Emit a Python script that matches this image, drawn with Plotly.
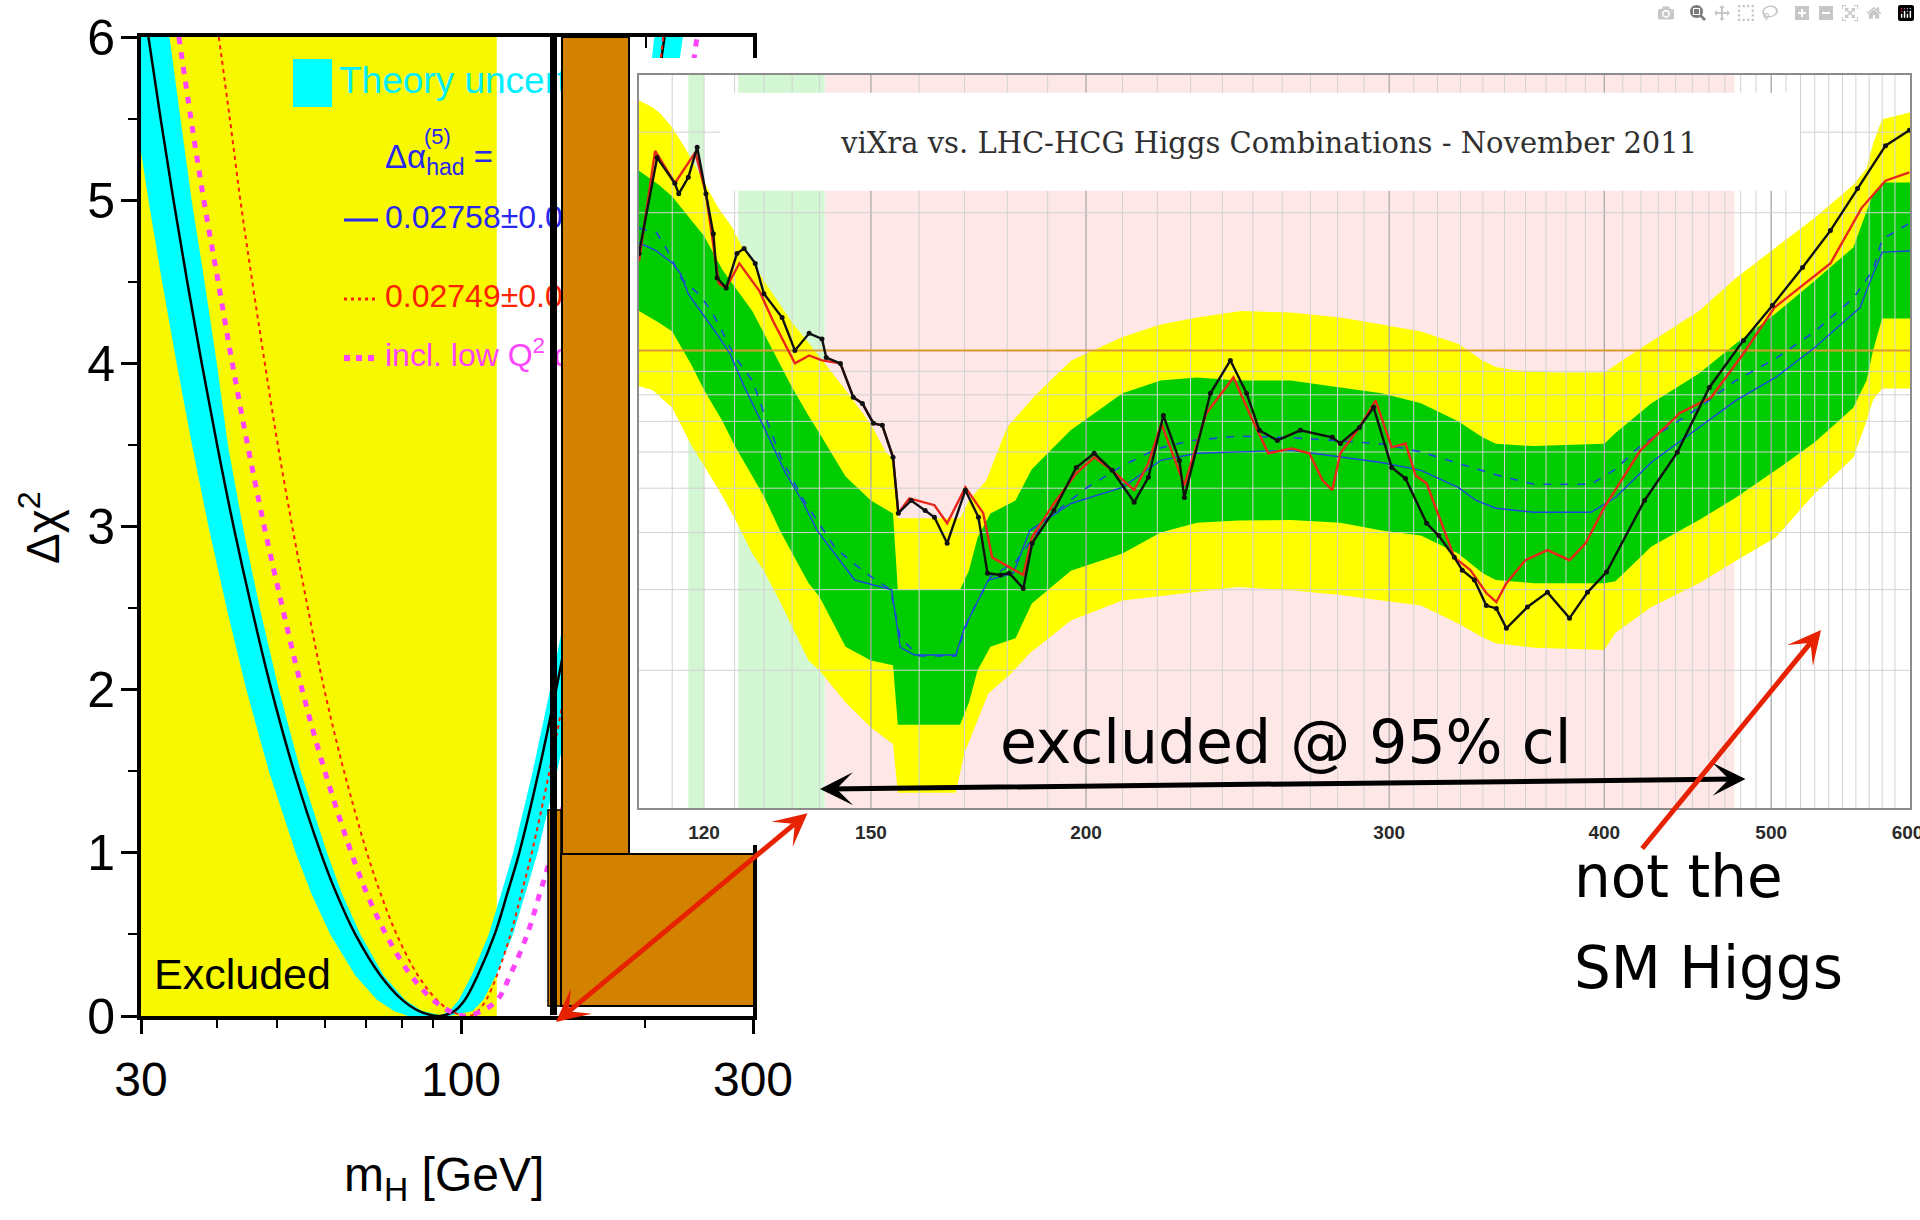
import math
import plotly.graph_objects as go

W, H = 1920, 1220

# =============== LEFT PANEL : Delta chi^2 vs m_H ===============
LEFT_X_TICKS = [30, 100, 300]
LEFT_X_MINOR = [40, 50, 60, 70, 80, 90, 200]
LEFT_Y_TICKS = [0, 1, 2, 3, 4, 5, 6]
LEFT_Y_MINOR = [0.5, 1.5, 2.5, 3.5, 4.5, 5.5]
LEP_EXCLUDED = [30, 114.4]

FIT_M = [30.85, 32.3, 33.9, 35.7, 37.7, 39.95, 42.5, 45.5, 49.0, 53.35, 59.0, 62.6, 67.2, 73.8, 80.1, 85.4,
         92.3, 97.5, 101.5, 106.5, 113.5, 119.0, 124.5, 134.0, 143.0, 152.0, 161.0, 170.0, 179.0, 188.0,
         197.0, 206.0, 215.0]
FIT_D = [6, 5.5, 5, 4.5, 4, 3.5, 3, 2.5, 2, 1.5, 1, 0.75, 0.5, 0.25, 0.1, 0.03,
         0, 0.03, 0.1, 0.25, 0.5, 0.75, 1, 1.5, 2, 2.5, 3, 3.5, 4, 4.5, 5, 5.5, 6]

ALT_M = [40.2, 41.9, 43.6, 45.6, 47.8, 50.2, 53.0, 56.2, 59.8, 64.4, 70.2, 73.9, 78.5, 85.0, 91.2, 96.4,
         103.0, 106.5, 110.0, 114.5, 120.5, 125.5, 130.5, 139.5, 148.0, 156.5, 165.0, 173.5, 182.0, 190.5,
         198.5, 206.5, 214.0]
ALT_D = FIT_D

LOWQ_M = [34.6, 36.2, 38.0, 40.1, 42.3, 44.8, 47.7, 51.1, 55.0, 59.9, 66.2, 70.2, 75.4, 82.8, 89.9, 95.8,
          101.0, 108.0, 114.7, 120.3, 128.3, 134.5, 140.7, 151.4, 161.6, 171.8, 181.9, 192.1, 202.3, 212.4,
          222.6, 232.8, 243.0]
LOWQ_D = FIT_D

# theory band: outer edge then inner edge (closed polygon)
BAND_M = [28.07, 29.39, 30.85, 32.48, 34.30, 36.35, 38.67, 41.40, 44.59, 48.54, 53.69, 56.96, 61.15, 67.15,
          72.89, 77.7, 82.0, 95.5, 104.5, 108.8, 114.1, 121.6, 127.5, 133.4, 143.6, 153.2, 162.9, 172.5,
          182.2, 191.8, 201.4, 211.1, 220.7, 230.4,
          207.0, 199.5, 191.5, 183.2, 174.6, 166.0, 157.4, 148.6, 139.8, 131.0, 121.7, 116.3, 111.0, 104.1,
          99.2, 95.8, 92.5, 86.4, 81.0, 74.7, 68.5, 63.9, 60.4, 54.7, 50.4, 46.9, 44.0, 41.6, 39.9, 38.1,
          36.3, 34.8, 33.4]
BAND_D = [6, 5.5, 5, 4.5, 4, 3.5, 3, 2.5, 2, 1.5, 1, 0.75, 0.5, 0.25, 0.1, 0.03, 0, 0, 0.03, 0.1, 0.25,
          0.5, 0.75, 1, 1.5, 2, 2.5, 3, 3.5, 4, 4.5, 5, 5.5, 6,
          6, 5.5, 5, 4.5, 4, 3.5, 3, 2.5, 2, 1.5, 1, 0.75, 0.5, 0.25, 0.1, 0.03, 0.005, 0.03, 0.1, 0.25,
          0.5, 0.75, 1, 1.5, 2, 2.5, 3, 3.5, 4, 4.5, 5, 5.5, 6]

# =============== RIGHT PANEL : viXra vs LHC-HCG ===============
R_X_TICKS = [120, 150, 200, 300, 400, 500, 600]
GRID_MAJOR = [150, 200, 300, 400, 500]
GRID_MINOR = [115, 120, 125, 130, 135, 140, 160, 170, 180, 190, 210, 220, 230, 240, 250, 260, 270, 280, 290,
              310, 320, 330, 340, 350, 360, 370, 380, 390, 410, 420, 430, 440, 450, 460, 470, 480, 490,
              510, 520, 530, 540, 550, 560, 570, 580, 590]
GRID_H = [0.2, 0.3, 0.4, 0.5, 0.6, 0.7, 0.8, 0.9, 1, 2, 3]
PINK_RANGE = [141, 476]
GREEN_RANGES = [[117.5, 120], [125.6, 141]]
TITLE_BOX = [122.6, 519.6, 2.235, 3.66]

YT_M = [110, 112, 113.2, 115, 117, 119, 120.6, 122.3, 124.6, 126.3, 128, 130, 133, 135, 138, 140, 145, 150,
        153, 154.5, 155.5, 169, 171, 175, 180, 187, 196, 210, 221, 232, 246, 263, 281, 297, 313, 329, 340,
        346, 355, 373, 400, 418, 454, 477, 503, 530, 558, 568, 573, 580, 602]
YT_V = [3.52, 3.4, 3.29, 3.07, 2.77, 2.47, 2.27, 2.05, 1.86, 1.68, 1.56, 1.42, 1.25, 1.15, 1.04, 0.97, 0.82,
        0.69, 0.6, 0.58, 0.43, 0.43, 0.47, 0.52, 0.68, 0.8, 0.95, 1.07, 1.14, 1.18, 1.22, 1.21, 1.18, 1.14,
        1.1, 1.035, 0.95, 0.92, 0.905, 0.895, 0.895, 1.0, 1.22, 1.44, 1.68, 1.95, 2.3, 2.5, 2.83, 3.2, 3.31]
YB_M = [110, 112, 115, 118, 120, 123, 125, 128, 130, 133, 135, 138, 140, 145, 150, 154.5, 155.5, 168, 170,
        175.5, 181, 185.5, 196, 210, 245, 263, 281, 297, 313, 329, 340, 346, 364, 400, 406, 426, 454, 477,
        503, 530, 558, 568, 573, 580, 602]
YB_V = [0.835, 0.82, 0.75, 0.62, 0.56, 0.48, 0.43, 0.36, 0.33, 0.28, 0.25, 0.21, 0.2, 0.17, 0.15, 0.138,
        0.108, 0.108, 0.132, 0.178, 0.197, 0.218, 0.257, 0.284, 0.304, 0.299, 0.292, 0.284, 0.277, 0.253,
        0.236, 0.229, 0.224, 0.2215, 0.2415, 0.275, 0.31, 0.347, 0.39, 0.487, 0.583, 0.70, 0.78, 0.826,
        0.826]
GT_M = [110, 113, 115, 118, 120, 123, 125, 128, 130, 133, 135, 138, 140, 145, 150, 154.5, 155.5, 169, 171,
        173, 176, 182, 186, 196, 210, 221, 232, 245, 263, 281, 297, 313, 329, 340, 346, 364, 400, 406, 426,
        454, 477, 503, 530, 558, 573, 580, 602]
GT_V = [2.47, 2.3, 2.17, 1.93, 1.78, 1.5, 1.38, 1.22, 1.09, 0.92, 0.83, 0.72, 0.66, 0.53, 0.47, 0.44, 0.30,
        0.30, 0.33, 0.39, 0.44, 0.47, 0.55, 0.67, 0.806, 0.86, 0.873, 0.86, 0.86, 0.83, 0.806, 0.767, 0.70,
        0.645, 0.625, 0.618, 0.625, 0.66, 0.767, 0.89, 1.036, 1.205, 1.42, 1.68, 2.2, 2.33, 2.33]
GB_M = [110, 113, 115, 118, 120, 123, 125, 128, 130, 133, 135, 138, 140, 145, 150, 154.5, 155.5, 169, 171,
        173, 176, 182, 186, 196, 210, 221, 232, 245, 263, 281, 297, 313, 329, 340, 346, 364, 400, 406, 426,
        454, 477, 503, 530, 558, 568, 573, 580, 602]
GB_V = [1.22, 1.15, 1.1, 0.93, 0.82, 0.7, 0.62, 0.53, 0.48, 0.40, 0.36, 0.31, 0.29, 0.225, 0.21, 0.205,
        0.152, 0.152, 0.17, 0.2, 0.225, 0.235, 0.28, 0.33, 0.36, 0.4, 0.42, 0.425, 0.426, 0.42, 0.404, 0.394,
        0.36, 0.326, 0.315, 0.31, 0.31, 0.313, 0.373, 0.426, 0.477, 0.547, 0.63, 0.75, 0.86, 1.0, 1.175,
        1.175]
MED_M = [110, 112.6, 115.1, 116.3, 117.5, 119.1, 120.8, 122.5, 124.3, 126.5, 130, 133.8, 136.8, 139.6, 146.8,
         154.2, 156, 159, 168, 170, 175.5, 181.5, 185.5, 196, 210, 221, 232, 245, 263, 297, 313, 329, 337, 346,
         364, 393, 406, 426, 454, 477, 503, 530, 558, 563, 573, 580, 602]
MED_V = [1.72, 1.65, 1.55, 1.47, 1.33, 1.24, 1.146, 1.067, 0.98, 0.84, 0.68, 0.54, 0.47, 0.404, 0.315, 0.3,
         0.2245, 0.216, 0.216, 0.248, 0.315, 0.326, 0.404, 0.463, 0.502, 0.575, 0.596, 0.6, 0.605, 0.569,
         0.547, 0.502, 0.47, 0.452, 0.443, 0.443, 0.477, 0.57, 0.68, 0.778, 0.873, 1.015, 1.205, 1.24, 1.47,
         1.64, 1.65]
EXP_M = [110, 112.6, 114, 116.5, 119.1, 121, 122.5, 123.9, 125, 128, 130, 133, 136.8, 143, 149, 154, 156, 160,
         168, 171, 176, 182, 190, 200, 210, 220, 230, 245, 263, 280, 297, 313, 330, 346, 364, 393, 406, 420,
         454, 477, 503, 530, 558, 573, 580, 602]
EXP_V = [1.85, 1.81, 1.68, 1.43, 1.33, 1.23, 1.13, 1.036, 0.97, 0.86, 0.73, 0.583, 0.477, 0.37, 0.326, 0.30,
         0.235, 0.215, 0.215, 0.26, 0.32, 0.345, 0.43, 0.50, 0.56, 0.61, 0.635, 0.65, 0.645, 0.635, 0.625,
         0.60, 0.565, 0.535, 0.51, 0.51, 0.55, 0.62, 0.75, 0.86, 0.96, 1.1, 1.3, 1.5, 1.75, 1.9]
OBS_M = [110.0, 112.7, 115.4, 116.0, 117.5, 118.9, 120.3, 121.5, 122.1, 123.6, 125.4, 126.6, 128.5, 130.0,
         133.2, 135.5, 138.1, 140.5, 141.3, 144.0, 146.5, 148.3, 150.5, 152.3, 154.5, 155.6, 158.3, 161.3,
         163.3, 166.1, 170.2, 173.2, 175.3, 178.4, 180.5, 183.9, 186.1, 191.6, 197.4, 202.2, 207.1, 213.3,
         217.4, 221.8, 226.6, 228.1, 236.2, 242.6, 247.9, 252.2, 258.3, 266.4, 278.0, 281.0, 288.3, 293.8,
         301.0, 306.6, 315.4, 320.5, 327.3, 330.8, 336.2, 341.6, 346.2, 350.9, 360.9, 370.7, 381.8, 391.1,
         401.2, 422.1, 441.0, 460.3, 481.8, 500.8, 521.4, 541.2, 561.2, 582.6, 601.5]
OBS_V = [1.63, 2.64, 2.32, 2.20, 2.39, 2.78, 2.20, 1.80, 1.44, 1.37, 1.63, 1.67, 1.55, 1.33, 1.18, 1.00,
         1.09, 1.06, 0.965, 0.937, 0.79, 0.766, 0.693, 0.686, 0.584, 0.441, 0.47, 0.447, 0.432, 0.379, 0.495,
         0.432, 0.326, 0.323, 0.326, 0.302, 0.379, 0.447, 0.555, 0.596, 0.547, 0.466, 0.528, 0.721, 0.575,
         0.477, 0.806, 0.951, 0.806, 0.669, 0.636, 0.669, 0.646, 0.626, 0.679, 0.751, 0.555, 0.525, 0.419,
         0.394, 0.353, 0.331, 0.315, 0.277, 0.273, 0.247, 0.275, 0.296, 0.26, 0.296, 0.328, 0.47, 0.599, 0.83,
         1.052, 1.254, 1.518, 1.828, 2.258, 2.803, 3.03]
VIX_M = [110.0, 112.4, 115.4, 118.6, 120.3, 122.4, 123.6, 125.8, 129.2, 131.6, 135.5, 138.1, 140.5, 144.0,
         146.5, 148.3, 150.5, 152.3, 154.5, 155.6, 157.9, 163.3, 166.1, 170.2, 174.3, 176.4, 183.9, 186.1,
         191.6, 197.4, 202.2, 207.1, 213.3, 217.4, 221.2, 228.1, 234.9, 243.6, 249.5, 255.2, 263.2, 269.6,
         274.4, 278.0, 281.0, 288.3, 294.6, 301.0, 306.6, 310.8, 315.4, 327.3, 334.4, 341.6, 346.2, 350.9,
         359.9, 370.7, 381.8, 390.1, 400.0, 419.8, 438.1, 442.3, 461.5, 481.8, 502.2, 541.2, 564.3, 582.6,
         601.5]
VIX_V = [1.57, 2.73, 2.32, 2.71, 2.20, 1.40, 1.37, 1.55, 1.35, 1.16, 0.937, 0.975, 0.951, 0.937, 0.79, 0.766,
         0.693, 0.686, 0.584, 0.441, 0.475, 0.459, 0.419, 0.502, 0.441, 0.353, 0.323, 0.391, 0.463, 0.539,
         0.584, 0.547, 0.495, 0.567, 0.693, 0.507, 0.729, 0.873, 0.714, 0.596, 0.611, 0.596, 0.52, 0.495,
         0.596, 0.679, 0.778, 0.614, 0.626, 0.533, 0.512, 0.353, 0.331, 0.295, 0.282, 0.31, 0.348, 0.366,
         0.348, 0.379, 0.454, 0.605, 0.703, 0.729, 0.79, 0.985, 1.241, 1.549, 2.05, 2.35, 2.45]
LIMIT_LINE = 1.0

# ---------------- helpers (pixel geometry of the composite) ----------------
SANS = "Liberation Sans, Arial, Helvetica, sans-serif"
HAND = "DejaVu Sans, sans-serif"


def X(p):
    return p / W


def Y(p):
    return 1 - p / H


L_X0, L_X1, L_Y0, L_Y1 = 141, 753, 37, 1016


def lx(p):
    return 10 ** (math.log10(30) + (p - L_X0) / (L_X1 - L_X0) * (math.log10(300) - math.log10(30)))


def ly(p):
    return 6.0 * (L_Y1 - p) / (L_Y1 - L_Y0)


fig = go.Figure()
common = dict(hoverinfo="skip", showlegend=False)

# ---- left panel traces ----
fig.add_trace(go.Scatter(x=[LEP_EXCLUDED[0], LEP_EXCLUDED[1], LEP_EXCLUDED[1], LEP_EXCLUDED[0]],
                         y=[0, 0, 6, 6], fill="toself", fillcolor="#f8f800", mode="lines",
                         line=dict(width=0), **common))
fig.add_trace(go.Scatter(x=BAND_M, y=BAND_D, fill="toself", fillcolor="#00ffff", mode="lines",
                         line=dict(width=0), **common))
fig.add_trace(go.Scatter(x=FIT_M, y=FIT_D, mode="lines", line=dict(color="black", width=2.5, shape="spline"),
                         **common))
fig.add_trace(go.Scatter(x=ALT_M, y=ALT_D, mode="lines",
                         line=dict(color="#ff2200", width=2, dash="4px,4px", shape="spline"), **common))
fig.add_trace(go.Scatter(x=LOWQ_M, y=LOWQ_D, mode="lines",
                         line=dict(color="#ff44ff", width=5, dash="7px,8px", shape="spline"), **common))

# legend texts (drawn as traces so the pasted blocks hide them)
legend_items = [
    ("Theory uncertainty", 339, 84, "#00f0ff", 37),
    ("Δα<sub>had</sub> =", 385, 160, "#2828f0", 33),
    ("(5)", 424, 138, "#2828f0", 22),
    ("0.02758±0.00035", 385, 220, "#2828f0", 32),
    ("0.02749±0.00010", 385, 299, "#ff2200", 32),
    ("incl. low Q<sup>2</sup> data", 385, 358, "#ff44ff", 32),
]
for txt, px_, py_, col, sz in legend_items:
    fig.add_trace(go.Scatter(x=[lx(px_)], y=[ly(py_)], mode="text", text=[txt], textposition="middle right",
                             textfont=dict(family=SANS, size=sz, color=col), **common))

# ---- white pasted picture block (overlapping subplot gives an opaque background) ----
fig.add_trace(go.Scatter(x=[None], y=[None], xaxis="x2", yaxis="y2", **common))

# ---- right panel traces ----
rx = dict(xaxis="x3", yaxis="y3")
fig.add_trace(go.Scatter(x=[PINK_RANGE[0], PINK_RANGE[1], PINK_RANGE[1], PINK_RANGE[0]], y=[0.1, 0.1, 4, 4],
                         fill="toself", fillcolor="#fde7e7", mode="lines", line=dict(width=0), **rx, **common))
for g0, g1 in GREEN_RANGES:
    fig.add_trace(go.Scatter(x=[g0, g1, g1, g0], y=[0.1, 0.1, 4, 4], fill="toself", fillcolor="#d3f6d3",
                             mode="lines", line=dict(width=0), **rx, **common))
fig.add_trace(go.Scatter(x=YT_M + YB_M[::-1], y=YT_V + YB_V[::-1], fill="toself", fillcolor="#ffff00",
                         mode="lines", line=dict(width=0), **rx, **common))
fig.add_trace(go.Scatter(x=GT_M + GB_M[::-1], y=GT_V + GB_V[::-1], fill="toself", fillcolor="#00cc00",
                         mode="lines", line=dict(width=0), **rx, **common))


def vlines(vals):
    xs, ys = [], []
    for v in vals:
        xs += [v, v, None]
        ys += [0.1, 4, None]
    return xs, ys


def hlines(vals):
    xs, ys = [], []
    for v in vals:
        xs += [110, 602, None]
        ys += [v, v, None]
    return xs, ys


gx, gy = vlines(GRID_MINOR)
fig.add_trace(go.Scatter(x=gx, y=gy, mode="lines", line=dict(color="#d2d2d2", width=1), **rx, **common))
gx, gy = vlines(GRID_MAJOR)
fig.add_trace(go.Scatter(x=gx, y=gy, mode="lines", line=dict(color="#a9a9a9", width=1.3), **rx, **common))
gx, gy = hlines(GRID_H)
fig.add_trace(go.Scatter(x=gx, y=gy, mode="lines", line=dict(color="#d2d2d2", width=1), **rx, **common))
b = TITLE_BOX
fig.add_trace(go.Scatter(x=[b[0], b[1], b[1], b[0]], y=[b[2], b[2], b[3], b[3]], fill="toself",
                         fillcolor="white", mode="lines", line=dict(width=0), **rx, **common))
fig.add_trace(go.Scatter(x=[110, 602], y=[LIMIT_LINE, LIMIT_LINE], mode="lines",
                         line=dict(color="#dc9a2e", width=2), **rx, **common))
fig.add_trace(go.Scatter(x=EXP_M, y=EXP_V, mode="lines", line=dict(color="#1f45e0", width=1.6, dash="8px,9px"),
                         **rx, **common))
fig.add_trace(go.Scatter(x=MED_M, y=MED_V, mode="lines", line=dict(color="#1f45e0", width=1.4), **rx, **common))
fig.add_trace(go.Scatter(x=VIX_M, y=VIX_V, mode="lines", line=dict(color="#e8281a", width=2.4), **rx, **common))
fig.add_trace(go.Scatter(x=OBS_M, y=OBS_V, mode="lines+markers", line=dict(color="#111111", width=2.4),
                         marker=dict(color="#111111", size=5), **rx, **common))

# ---------------- layout ----------------
ORANGE = "#d38200"
shapes = [
    dict(type="rect", xref="paper", yref="paper", x0=X(293), x1=X(332), y0=Y(107), y1=Y(59),
         fillcolor="#00ffff", line=dict(width=0), layer="above"),
    dict(type="line", xref="paper", yref="paper", x0=X(344), x1=X(378), y0=Y(220), y1=Y(220),
         line=dict(color="#2828f0", width=3), layer="above"),
    dict(type="line", xref="paper", yref="paper", x0=X(344), x1=X(376), y0=Y(299), y1=Y(299),
         line=dict(color="#ff2200", width=3, dash="3px,4px"), layer="above"),
    dict(type="line", xref="paper", yref="paper", x0=X(344), x1=X(376), y0=Y(358), y1=Y(358),
         line=dict(color="#ff44ff", width=6, dash="6px,6px"), layer="above"),
    dict(type="line", xref="paper", yref="paper", x0=X(646), x1=X(646), y0=Y(37), y1=Y(48),
         line=dict(color="black", width=2), layer="above"),
    dict(type="rect", xref="paper", yref="paper", x0=X(548), x1=X(561), y0=Y(1006), y1=Y(810),
         fillcolor=ORANGE, line=dict(color="black", width=1.5), layer="above"),
    dict(type="rect", xref="paper", yref="paper", x0=X(550), x1=X(557), y0=Y(1015), y1=Y(33),
         fillcolor="black", line=dict(width=0), layer="above"),
    dict(type="rect", xref="paper", yref="paper", x0=X(562), x1=X(629), y0=Y(855), y1=Y(37),
         fillcolor=ORANGE, line=dict(color="black", width=2), layer="above"),
    dict(type="rect", xref="paper", yref="paper", x0=X(561), x1=X(754), y0=Y(1006), y1=Y(854),
         fillcolor=ORANGE, line=dict(color="black", width=2), layer="above"),
]


def label(text, xp, yp, size, family=SANS, color="black", xanchor="center", angle=0):
    return dict(text=text, x=X(xp), y=Y(yp), xref="paper", yref="paper", showarrow=False,
                xanchor=xanchor, yanchor="middle", textangle=angle,
                font=dict(family=family, size=size, color=color))


def arrow(x_head, y_head, x_tail, y_tail, color, both):
    d = dict(text="", x=X(x_head), y=Y(y_head), xref="paper", yref="paper",
             ax=x_tail - x_head, ay=y_tail - y_head, showarrow=True, arrowhead=3, arrowwidth=5,
             arrowsize=1.1, arrowcolor=color, standoff=0)
    if both:
        d.update(startarrowhead=3, arrowside="end+start", startarrowsize=1.1, startstandoff=0)
    return d


annotations = [
    label("Δχ<sup>2</sup>", 40, 528, 46, angle=-90),
    label("m<sub>H</sub> [GeV]", 444, 1178, 48),
    label("Excluded", 152, 974, 43, xanchor="left"),
    label("viXra vs. LHC-HCG Higgs Combinations - November 2011", 1268, 143, 29,
          family="DejaVu Serif, serif", color="#303030"),
    label("excluded @ 95% cl", 1285, 742, 60, family=HAND),
    label("not the", 1572, 877, 58, family=HAND, xanchor="left"),
    label("SM Higgs", 1572, 968, 58, family=HAND, xanchor="left"),
    arrow(820, 789, 1747, 779, "black", True),
    arrow(556, 1022, 809, 812, "#e62200", True),
    arrow(1821, 630, 1641, 850, "#e62200", False),
]

fig.update_layout(
    width=W, height=H, margin=dict(l=0, r=0, t=0, b=0, pad=0, autoexpand=False),
    paper_bgcolor="white", plot_bgcolor="white", showlegend=False,
    xaxis=dict(type="log", range=[math.log10(30), math.log10(300)], domain=[X(L_X0), X(L_X1)], anchor="y",
               automargin=False,
               tickmode="array", tickvals=LEFT_X_TICKS, ticktext=[str(v) for v in LEFT_X_TICKS],
               ticks="outside", ticklen=14, tickwidth=2.5, tickcolor="black",
               minor=dict(tickmode="array", tickvals=LEFT_X_MINOR, ticks="outside", ticklen=8, tickwidth=2,
                          tickcolor="black", showgrid=False),
               showline=True, linecolor="black", linewidth=4, mirror=True, showgrid=False, zeroline=False,
               ticklabelstandoff=4, tickfont=dict(family=SANS, size=48, color="black")),
    yaxis=dict(range=[0, 6], domain=[Y(L_Y1), Y(L_Y0)], anchor="x", automargin=False,
               tickmode="array", tickvals=LEFT_Y_TICKS, ticks="outside", ticklen=16, tickwidth=2.5,
               tickcolor="black",
               minor=dict(tickmode="array", tickvals=LEFT_Y_MINOR, ticks="outside", ticklen=9, tickwidth=2,
                          tickcolor="black", showgrid=False),
               showline=True, linecolor="black", linewidth=4, mirror=True, showgrid=False, zeroline=False,
               ticklabelstandoff=-4, tickfont=dict(family=SANS, size=50, color="black")),
    xaxis2=dict(domain=[X(630), 1.0], anchor="y2", range=[0, 1], visible=False, automargin=False),
    yaxis2=dict(domain=[Y(845), Y(58)], anchor="x2", range=[0, 1], visible=False, automargin=False),
    xaxis3=dict(type="log", range=[math.log10(110), math.log10(602)], domain=[X(639), X(1910)], anchor="y3",
                automargin=False, ticklabeloverflow="allow",
                tickmode="array", tickvals=R_X_TICKS, ticktext=[str(v) for v in R_X_TICKS], ticks="",
                showline=True, linecolor="#8c8c8c", linewidth=1.5, mirror=True, showgrid=False, zeroline=False,
                ticklabelstandoff=6,
                tickfont=dict(family=SANS, size=19, color="#2a2a2a", weight="bold")),
    yaxis3=dict(type="log", range=[-1, math.log10(4)], domain=[Y(808), Y(75)], anchor="x3", automargin=False,
                showticklabels=False, ticks="", showline=True, linecolor="#8c8c8c", linewidth=1.5, mirror=True,
                showgrid=False, zeroline=False),
    shapes=shapes, annotations=annotations,
)

fig.write_html("out.html", post_script="document.body.style.margin='0px';")
